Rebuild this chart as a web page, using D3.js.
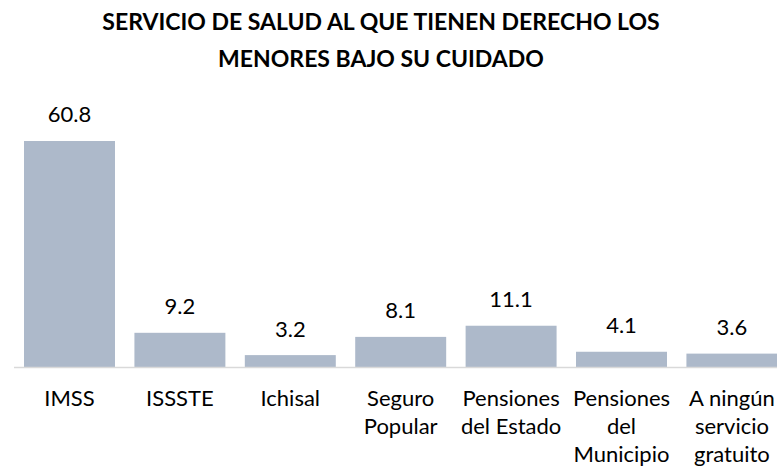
<!DOCTYPE html>
<html>
<head>
<meta charset="utf-8">
<script src="https://cdn.jsdelivr.net/npm/d3@7"></script>
<style>
  body { margin: 0; background: #fff; }
  svg { display: block; }
  text { font-family: Lato, "Open Sans", sans-serif; fill: #000; }
</style>
</head>
<body>
<svg width="777" height="466"></svg>
<script>
const categories = [
	["IMSS"],
	["ISSSTE"],
	["Ichisal"],
	["Seguro", "Popular"],
	["Pensiones", "del Estado"],
	["Pensiones", "del", "Municipio"],
	["A ningún", "servicio", "gratuito"],
];
const values = [60.8, 9.2, 3.2, 8.1, 11.1, 4.1, 3.6];
const titleLines = ["SERVICIO DE SALUD AL QUE TIENEN DERECHO LOS", "MENORES BAJO SU CUIDADO"];

const svg = d3.select("svg");
const baseY = 367;

const ids = categories.map((c, i) => i);
const xScale = d3
	.scaleBand()
	.domain(ids)
	.range([14.3, 787.1])
	.paddingInner(0.176)
	.paddingOuter(0.088);
const yScale = d3.scaleLinear().domain([0, 70]).range([baseY, baseY - 260.2]);

// title
svg
	.append("g")
	.selectAll("text")
	.data(titleLines)
	.enter()
	.append("text")
	.attr("x", 381)
	.attr("y", (d, i) => 30 + i * 36.5)
	.attr("text-anchor", "middle")
	.style("font-weight", "bold")
	.style("font-size", "23px")
	.text((d) => d);

// bars
svg
	.selectAll(".bar")
	.data(values)
	.enter()
	.append("rect")
	.classed("bar", true)
	.attr("x", (d, i) => xScale(i))
	.attr("width", xScale.bandwidth())
	.attr("y", (d) => yScale(d))
	.attr("height", (d) => baseY - yScale(d))
	.attr("fill", "#adb9ca");

// axis line
svg
	.append("line")
	.attr("x1", 14)
	.attr("x2", 777)
	.attr("y1", baseY + 0.5)
	.attr("y2", baseY + 0.5)
	.attr("stroke", "#d9d9d9")
	.attr("stroke-width", 1.5);

// value labels
svg
	.selectAll(".val")
	.data(values)
	.enter()
	.append("text")
	.classed("val", true)
	.attr("x", (d, i) => xScale(i) + xScale.bandwidth() / 2)
	.attr("y", (d) => yScale(d) - 18.5)
	.attr("text-anchor", "middle")
	.style("font-size", "22px")
	.text((d) => d.toFixed(1));

// category labels
const cat = svg
	.selectAll(".cat")
	.data(categories)
	.enter()
	.append("text")
	.classed("cat", true)
	.attr("text-anchor", "middle")
	.style("font-size", "22px");
cat
	.selectAll("tspan")
	.data((d, i) => d.map((line) => ({ line, i })))
	.enter()
	.append("tspan")
	.attr("x", (d) => xScale(d.i) + xScale.bandwidth() / 2)
	.attr("y", (d, j) => 406 + j * 28)
	.text((d) => d.line);
</script>
</body>
</html>
